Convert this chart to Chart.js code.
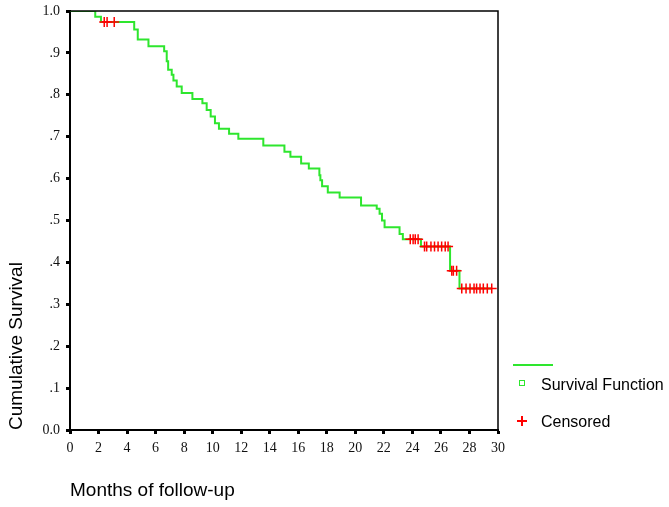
<!DOCTYPE html>
<html>
<head>
<meta charset="utf-8">
<script src="https://cdn.jsdelivr.net/npm/chart.js@4.4.0/dist/chart.umd.min.js"></script>
<style>
body { margin: 0; background: #fff; }
#wrap { position: relative; width: 669px; height: 507px; }
.lg { position: absolute; font-family: "Liberation Sans", Arial, sans-serif; font-size: 16px; line-height: 16px; color: #000; white-space: nowrap; }
.mk { position: absolute; }
</style>
</head>
<body>
<div id="wrap">
    <canvas id="kmChart" width="669" height="507"></canvas>
    <!-- legend -->
    <div class="mk" style="left:513px;top:364px;width:40px;height:2px;background:#2ee62e"></div>
    <div class="mk" style="left:519px;top:380px;width:4px;height:4px;border:1.5px solid #2ee62e"></div>
    <span class="lg" style="left:541px;top:377px">Survival Function</span>
    <div class="mk" style="left:517px;top:420px;width:10px;height:1.5px;background:#ff0000"></div>
    <div class="mk" style="left:521px;top:416px;width:1.5px;height:10px;background:#ff0000"></div>
    <span class="lg" style="left:541px;top:414px">Censored</span>
</div>
<script>
// Kaplan-Meier curve: month of each drop and the survival level after it
const eventMonths = [0, 1.77, 2.17, 4.5, 4.75, 5.5, 6.6, 6.78, 6.88, 7.13, 7.25, 7.48, 7.83,
    8.58, 9.28, 9.58, 9.86, 10.16, 10.44, 11.15, 11.8, 13.55, 15.03, 15.45, 16.2, 16.74,
    17.48, 17.55, 17.67, 18.07, 18.9, 20.4, 21.5, 21.7, 21.87, 22.05, 23.1, 23.33, 24.6,
    26.64, 27.3, 29.56];
const survival = [1.0, 0.986, 0.974, 0.956, 0.932, 0.916, 0.904, 0.88, 0.86, 0.848, 0.834, 0.82, 0.804,
    0.79, 0.78, 0.764, 0.748, 0.732, 0.719, 0.707, 0.695, 0.679, 0.664, 0.652, 0.636, 0.624,
    0.608, 0.596, 0.582, 0.567, 0.555, 0.536, 0.528, 0.516, 0.5, 0.484, 0.468, 0.455, 0.438,
    0.38, 0.338, 0.338];

// censored observations (months)
const censorMonths = [2.4, 2.6, 3.1, 23.85, 24.05, 24.2, 24.4, 24.85, 25.0, 25.3, 25.55, 25.8,
    26.05, 26.3, 26.5, 26.76, 26.87, 27.1, 27.46, 27.76, 28.04, 28.32, 28.5, 28.74, 28.97,
    29.25, 29.56];

const yTickLabels = {0: "0.0", 1: ".1", 2: ".2", 3: ".3", 4: ".4", 5: ".5", 6: ".6", 7: ".7", 8: ".8", 9: ".9", 10: "1.0"};

// level of the curve at a given month
function levelAt(m) {
    let v = survival[0];
    for (let i = 0; i < eventMonths.length; i++) {
        if (eventMonths[i] <= m) v = survival[i];
    }
    return v;
}

const framePlugin = {
    id: "frame",
    afterDatasetsDraw(chart) {
        const { ctx, chartArea } = chart;
        ctx.save();
        ctx.strokeStyle = "#000";
        ctx.lineWidth = 1.5;
        ctx.beginPath();
        ctx.moveTo(chartArea.left, chartArea.top);
        ctx.lineTo(chartArea.right, chartArea.top);
        ctx.lineTo(chartArea.right, chartArea.bottom);
        ctx.stroke();
        ctx.restore();
    },
};

const tickFont = { family: "'Liberation Serif', 'Times New Roman', serif", size: 14 };
const titleFont = { family: "'Liberation Sans', Arial, sans-serif", size: 19 };

new Chart(document.getElementById("kmChart").getContext("2d"), {
    type: "scatter",
    data: {
        datasets: [
            {
                label: "Censored",
                data: censorMonths.map((m) => ({ x: m, y: levelAt(m) })),
                pointStyle: "cross",
                pointRadius: 5,
                borderColor: "#ff0000",
                borderWidth: 1.5,
                showLine: false,
                order: 0,
            },
            {
                label: "Survival Function",
                data: eventMonths.map((m, i) => ({ x: m, y: survival[i] })),
                showLine: true,
                stepped: true,
                borderColor: "#2ee62e",
                borderWidth: 2,
                pointRadius: 0,
                fill: false,
                order: 1,
            },
        ],
    },
    options: {
        responsive: false,
        animation: false,
        layout: { padding: { top: 11, right: 171, left: 0, bottom: 0 } },
        plugins: {
            legend: { display: false },
            tooltip: { enabled: false },
        },
        scales: {
            x: {
                type: "linear",
                min: 0,
                max: 30,
                afterFit(scale) {
                    scale.height = 77;
                    scale.paddingLeft = 0;
                    scale.paddingRight = 0;
                },
                ticks: { stepSize: 2, color: "#111", font: tickFont, padding: 6, maxRotation: 0 },
                grid: { drawOnChartArea: false, drawTicks: true, tickLength: 4, tickWidth: 3, tickColor: "#000" },
                border: { display: true, color: "#000", width: 2 },
                title: { display: true, text: "Months of follow-up", align: "start", color: "#000", font: titleFont, padding: { top: 0, bottom: 5 } },
            },
            y: {
                min: 0,
                max: 1,
                afterFit(scale) {
                    scale.width = 70;
                    scale.paddingTop = 0;
                    scale.paddingBottom = 0;
                },
                ticks: {
                    stepSize: 0.1,
                    color: "#111",
                    font: tickFont,
                    padding: 6,
                    callback: (v) => yTickLabels[Math.round(v * 10)],
                },
                grid: { drawOnChartArea: false, drawTicks: true, tickLength: 4, tickWidth: 3, tickColor: "#000" },
                border: { display: true, color: "#000", width: 2 },
                title: { display: true, text: "Cumulative Survival", align: "start", color: "#000", font: titleFont, padding: { top: 5, bottom: 0 } },
            },
        },
    },
    plugins: [framePlugin],
});
</script>
</body>
</html>
